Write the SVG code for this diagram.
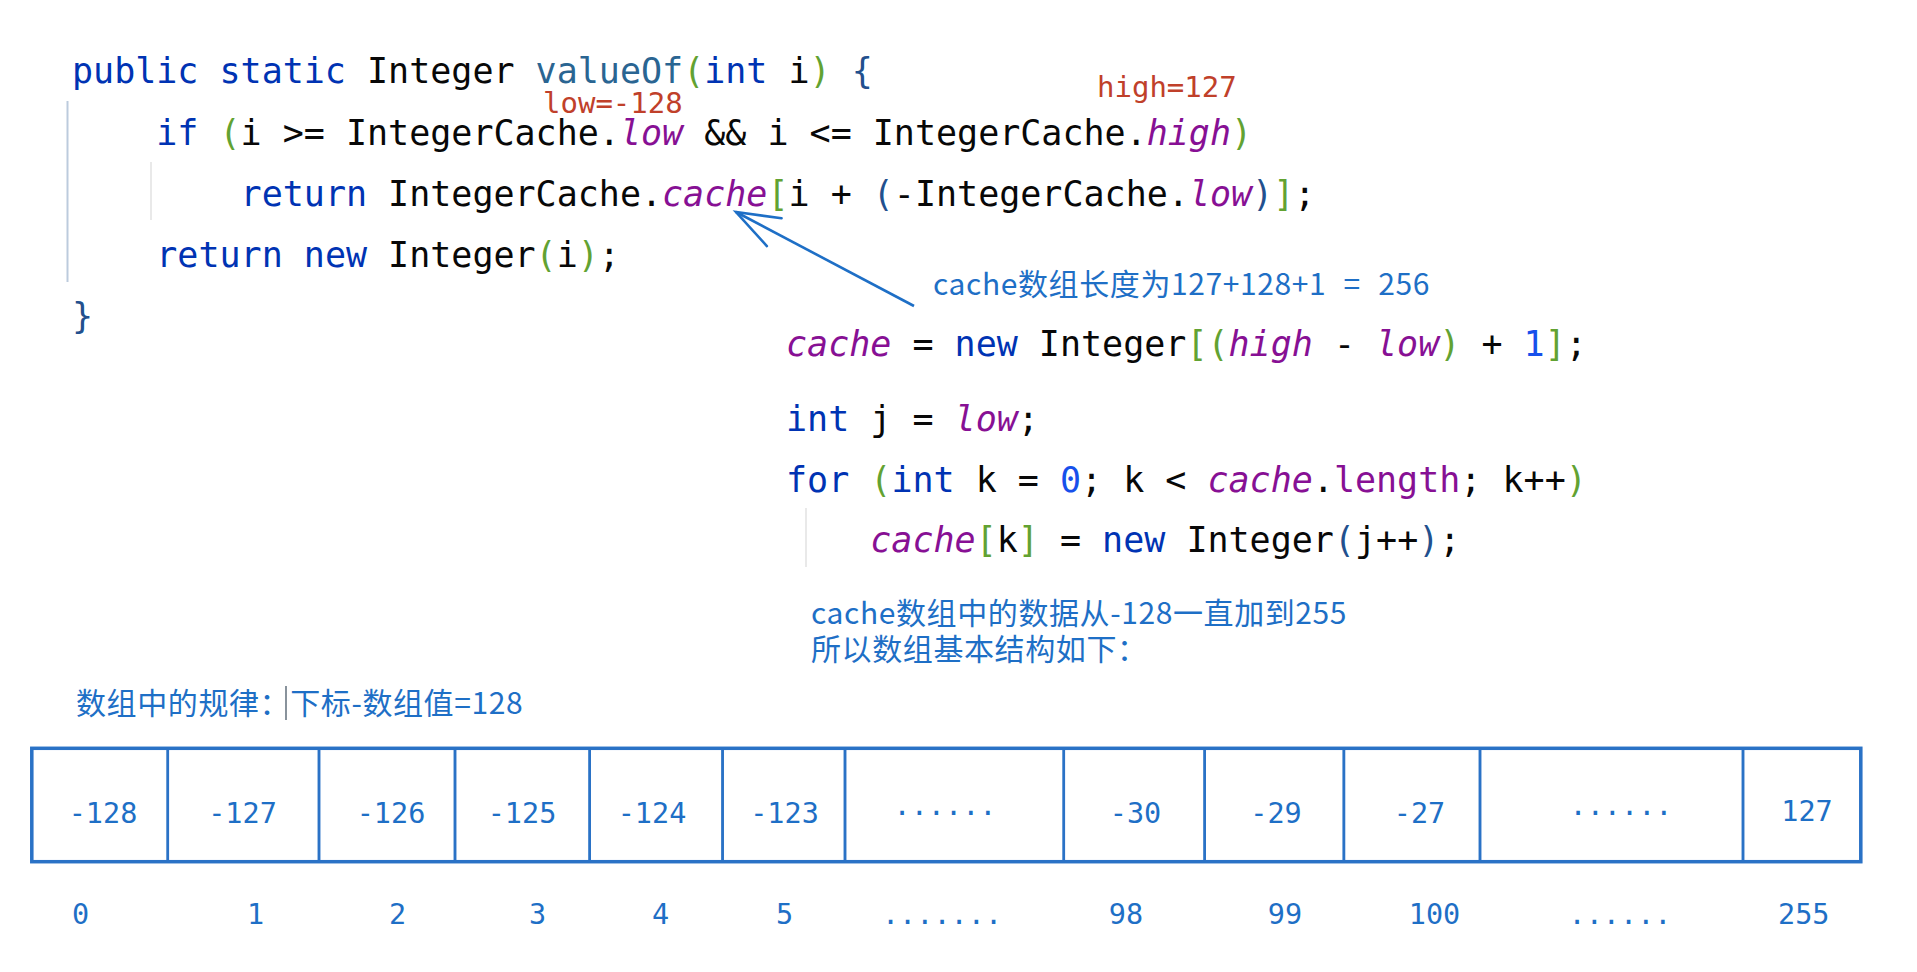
<svg xmlns="http://www.w3.org/2000/svg" width="1917" height="972" viewBox="0 0 1917 972">
<style>
.code{font-family:"DejaVu Sans Mono","Liberation Mono",monospace;font-size:35px;fill:#080808}
.kw{fill:#0033b3}
.fn{fill:#2a6592}
.fld{fill:#871094;font-style:italic}
.fldn{fill:#871094}
.num{fill:#1750eb}
.g{fill:#62a232}
.nv{fill:#22508e}
.red{font-family:"DejaVu Sans Mono","Liberation Mono",monospace;font-size:29px;fill:#c0402a}
.note{font-family:"Noto Sans CJK SC","Noto Sans",sans-serif;font-size:30px;fill:#1e6fc6;letter-spacing:0.6px}
.cellt{font-family:"DejaVu Sans Mono","Liberation Mono",monospace;font-size:28.5px;fill:#1e6fc6;text-anchor:middle}
.cell{fill:none;stroke:#2a72c6;stroke-width:2.5}
.guide{stroke:#e2e2e2;stroke-width:1.5}
</style>
<defs>
<marker id="open" viewBox="-50 -20 54 40" refX="0" refY="0" markerWidth="54" markerHeight="40" orient="auto" markerUnits="userSpaceOnUse">
<path d="M-43.2,-15.7 L0,0 L-43.2,15.7" fill="none" stroke="#1e6fc6" stroke-width="2.6" stroke-linecap="round"/>
</marker>
</defs>
<rect width="1917" height="972" fill="#ffffff"/>

<g id="code-valueOf">
<line x1="67.5" y1="101" x2="67.5" y2="282" stroke="#bccbdd" stroke-width="2"/>
<line class="guide" x1="151" y1="162" x2="151" y2="220"/>
<text class="code" x="72" y="83" xml:space="preserve"><tspan class="kw">public</tspan> <tspan class="kw">static</tspan> Integer <tspan class="fn">valueOf</tspan><tspan class="g">(</tspan><tspan class="kw">int</tspan> i<tspan class="g">)</tspan> <tspan class="nv">{</tspan></text>
<text class="code" x="156.3" y="145" xml:space="preserve"><tspan class="kw">if</tspan> <tspan class="g">(</tspan>i &gt;= IntegerCache.<tspan class="fld">low</tspan> &amp;&amp; i &lt;= IntegerCache.<tspan class="fld">high</tspan><tspan class="g">)</tspan></text>
<text class="code" x="240.6" y="206" xml:space="preserve"><tspan class="kw">return</tspan> IntegerCache.<tspan class="fld">cache</tspan><tspan class="g">[</tspan>i + <tspan class="nv">(</tspan>-IntegerCache.<tspan class="fld">low</tspan><tspan class="nv">)</tspan><tspan class="g">]</tspan>;</text>
<text class="code" x="156.3" y="267" xml:space="preserve"><tspan class="kw">return</tspan> <tspan class="kw">new</tspan> Integer<tspan class="g">(</tspan>i<tspan class="g">)</tspan>;</text>
<text class="code" x="72" y="328"><tspan class="nv">}</tspan></text>
</g>

<g id="label-low"><text class="red" x="543" y="113">low=-128</text></g>
<g id="label-high"><text class="red" x="1097" y="97">high=127</text></g>

<g id="code-cache-init">
<line class="guide" x1="806" y1="508" x2="806" y2="567"/>
<text class="code" x="786" y="356" xml:space="preserve"><tspan class="fld">cache</tspan> = <tspan class="kw">new</tspan> Integer<tspan class="g">[(</tspan><tspan class="fld">high</tspan> - <tspan class="fld">low</tspan><tspan class="g">)</tspan> + <tspan class="num">1</tspan><tspan class="g">]</tspan>;</text>
<text class="code" x="786" y="431" xml:space="preserve"><tspan class="kw">int</tspan> j = <tspan class="fld">low</tspan>;</text>
<text class="code" x="786" y="492" xml:space="preserve"><tspan class="kw">for</tspan> <tspan class="g">(</tspan><tspan class="kw">int</tspan> k = <tspan class="num">0</tspan>; k &lt; <tspan class="fld">cache</tspan>.<tspan class="fldn">length</tspan>; k++<tspan class="g">)</tspan></text>
<text class="code" x="870.3" y="552" xml:space="preserve"><tspan class="fld">cache</tspan><tspan class="g">[</tspan>k<tspan class="g">]</tspan> = <tspan class="kw">new</tspan> Integer<tspan class="nv">(</tspan>j++<tspan class="nv">)</tspan>;</text>
</g>

<g id="note-length"><text class="note" x="933" y="295" word-spacing="10">cache数组长度为127+128+1 = 256</text></g>
<g id="note-range">
<text class="note" x="811" y="624">cache数组中的数据从-128一直加到255</text>
<text class="note" x="811" y="660">所以数组基本结构如下：</text>
</g>
<g id="note-rule">
<text class="note" x="76" y="714">数组中的规律：下标-数组值=128</text>
<line x1="286" y1="686" x2="286" y2="720" stroke="#3a4a5a" stroke-width="1.2"/>
</g>

<g id="connectors">
<path d="M914,306 L736,212" fill="none" stroke="#1e6fc6" stroke-width="2.6" marker-end="url(#open)"/>
</g>

<g id="array">
<g id="cell-0"><rect class="cell" x="31.8" y="748.3" width="136" height="113.4"/><text class="cellt" x="103" y="823">-128</text></g>
<g id="cell-1"><rect class="cell" x="167.8" y="748.3" width="151.2" height="113.4"/><text class="cellt" x="242.5" y="823">-127</text></g>
<g id="cell-2"><rect class="cell" x="319" y="748.3" width="136" height="113.4"/><text class="cellt" x="391" y="823">-126</text></g>
<g id="cell-3"><rect class="cell" x="455" y="748.3" width="134.7" height="113.4"/><text class="cellt" x="522" y="823">-125</text></g>
<g id="cell-4"><rect class="cell" x="589.7" y="748.3" width="132.9" height="113.4"/><text class="cellt" x="652" y="823">-124</text></g>
<g id="cell-5"><rect class="cell" x="722.6" y="748.3" width="122.4" height="113.4"/><text class="cellt" x="784.5" y="823">-123</text></g>
<g id="cell-6"><rect class="cell" x="845" y="748.3" width="218.8" height="113.4"/><text class="cellt" x="945" y="815">......</text></g>
<g id="cell-7"><rect class="cell" x="1063.8" y="748.3" width="140.9" height="113.4"/><text class="cellt" x="1135.5" y="823">-30</text></g>
<g id="cell-8"><rect class="cell" x="1204.7" y="748.3" width="139.2" height="113.4"/><text class="cellt" x="1276" y="823">-29</text></g>
<g id="cell-9"><rect class="cell" x="1343.9" y="748.3" width="136.1" height="113.4"/><text class="cellt" x="1419.5" y="823">-27</text></g>
<g id="cell-10"><rect class="cell" x="1480" y="748.3" width="263" height="113.4"/><text class="cellt" x="1621" y="815">......</text></g>
<g id="cell-11"><rect class="cell" x="1743" y="748.3" width="117.8" height="113.4"/><text class="cellt" x="1807" y="821">127</text></g>
<rect x="31.8" y="748.3" width="1829" height="113.4" fill="none" stroke="#2a72c6" stroke-width="3.5"/>
</g>

<g id="indices">
<text class="cellt" x="80.5" y="924">0</text>
<text class="cellt" x="255.7" y="924">1</text>
<text class="cellt" x="397.5" y="924">2</text>
<text class="cellt" x="537.6" y="924">3</text>
<text class="cellt" x="660.5" y="924">4</text>
<text class="cellt" x="784.7" y="924">5</text>
<text class="cellt" x="942" y="924">.......</text>
<text class="cellt" x="1126" y="924">98</text>
<text class="cellt" x="1285" y="924">99</text>
<text class="cellt" x="1434.5" y="924">100</text>
<text class="cellt" x="1620" y="924">......</text>
<text class="cellt" x="1803.8" y="924">255</text>
</g>
</svg>
